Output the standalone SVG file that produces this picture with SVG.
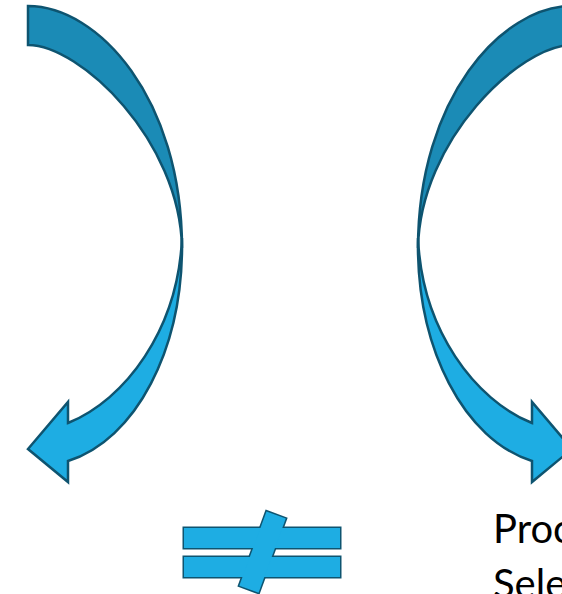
<svg xmlns="http://www.w3.org/2000/svg" width="562" height="594" viewBox="0 0 562 594">
<defs>
<style>
.back{fill:#1B8BB6;stroke:#0E5470;stroke-width:2.5;stroke-linejoin:miter}
.front{fill:#1EADE3;stroke:#0E5470;stroke-width:2.5;stroke-linejoin:miter}
.ne-stroke{fill:none;stroke:#0E5470;stroke-width:3}
.ne-fill{fill:#1EADE3;stroke:none}
.label{font-family:Lato,"Open Sans","Liberation Sans",sans-serif;font-size:40px;fill:#000}
</style>
<g id="curved-arrow-shape">
<path class="back" d="M28,6 L28,45 C80,45 180,140 182,248 C182,98 98,6 28,6 Z"/>
<path class="front" d="M182,238 C184,350 135,440 68,461 L68,482 L28,449 L68,402 L68,423 C125,400 178,330 182,238 Z"/>
</g>
</defs>
<g id="left-arrow">
<use href="#curved-arrow-shape"/>
</g>
<g id="right-arrow">
<use href="#curved-arrow-shape" transform="translate(600,0) scale(-1,1)"/>
</g>
<g id="not-equal">
<rect class="ne-stroke" x="184" y="528" width="156" height="20"/>
<rect class="ne-stroke" x="184" y="557" width="156" height="20"/>
<polygon class="ne-stroke" points="266.5,511.5 285.75,518.55 258.55,592.75 239.3,585.7"/>
<rect class="ne-fill" x="184" y="528" width="156" height="20"/>
<rect class="ne-fill" x="184" y="557" width="156" height="20"/>
<polygon class="ne-fill" points="266.5,511.5 285.75,518.55 258.55,592.75 239.3,585.7"/>
</g>
<g id="label">
<text class="label" x="493" y="543">Proc</text>
<text class="label" x="493" y="598">Sele</text>
</g>
</svg>
